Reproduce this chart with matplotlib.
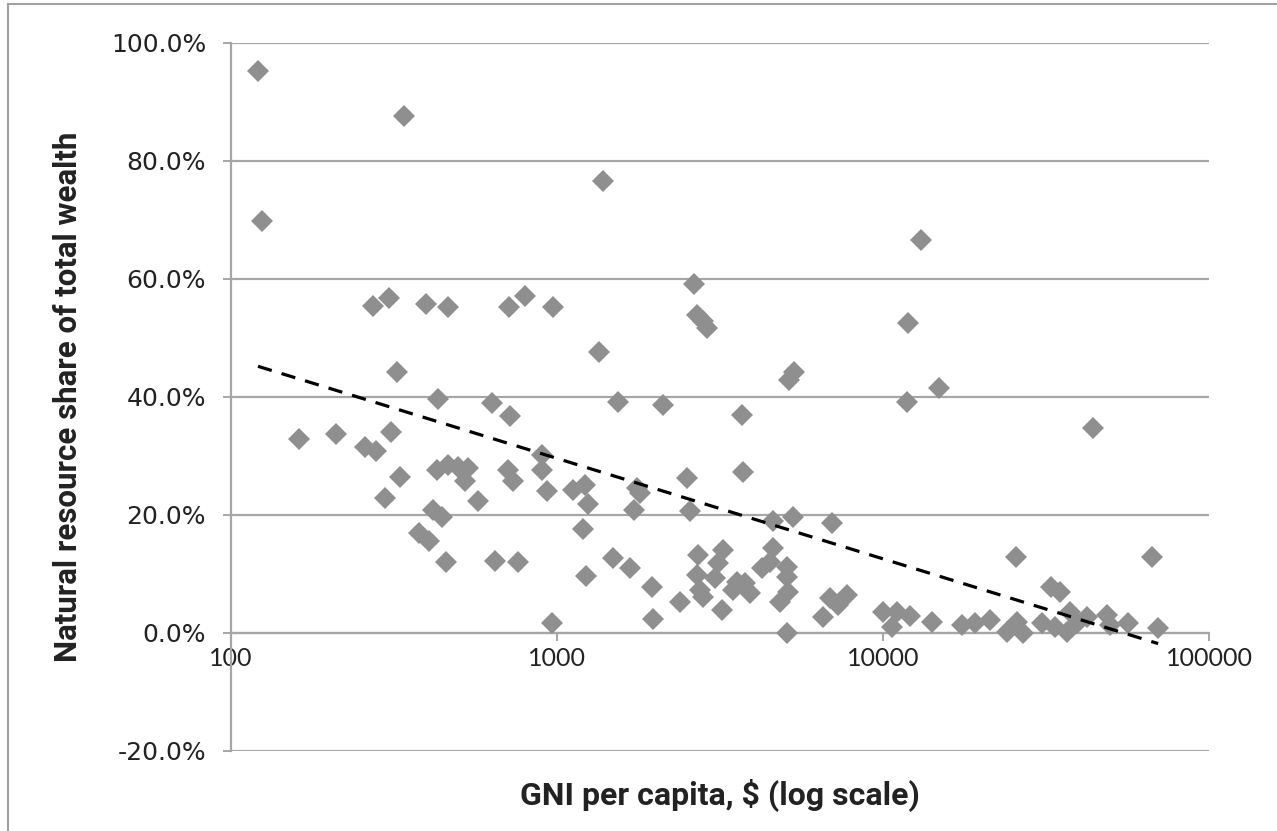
import numpy as np
import matplotlib
matplotlib.use('Agg')
import matplotlib.pyplot as plt
from matplotlib.ticker import FuncFormatter, FixedLocator, NullLocator
from matplotlib.lines import Line2D

# GNI per capita ($) and natural resource share of total wealth (%)
gni = [
    121, 124.5, 339.5, 161.7, 210, 257.6, 278.5, 309.6, 323, 272.7,
    305.3, 396.5, 463, 712, 797.5, 972, 431.5, 632, 717, 296.8,
    330, 428.5, 463, 497, 533, 522, 572, 707, 733, 899,
    899, 932, 416.6, 444, 377.3, 405, 456.5, 645.5, 759.5, 965.4,
    1384, 2631, 2688, 2805, 2885, 1345, 5333, 5148, 1539, 2114,
    3694, 3720, 2504, 1120, 1219, 1245, 1760, 1797, 1723, 2559,
    1202, 4598, 5296, 6977, 1485, 1675, 1227, 1956, 1970, 2707,
    3230, 3118, 2688, 3052, 2746, 2805, 2384, 3207, 3566, 3773,
    3467, 3908, 4598, 4501, 4254, 5076, 5076, 5112, 4831, 5076,
    6878, 7755, 7278, 6546, 10000, 13087, 11930, 11845, 14851, 44080,
    25590, 66880, 32750, 34910, 10656, 11040, 12100, 14135, 17470, 19150,
    21290, 24020, 25770, 26880, 30740, 33710, 37470, 36680, 39380, 42250,
    48660, 49700, 56430, 69770,
]
share = [
    95.3, 69.8, 87.7, 32.8, 33.8, 31.6, 30.9, 34.0, 44.2, 55.4,
    56.8, 55.7, 55.2, 55.2, 57.1, 55.2, 39.6, 38.9, 36.7, 22.9,
    26.5, 27.7, 28.5, 28.2, 28.0, 25.7, 22.3, 27.7, 25.7, 30.2,
    27.7, 24.0, 20.9, 19.7, 17.0, 15.6, 12.1, 12.2, 12.1, 1.7,
    76.6, 59.1, 53.9, 52.8, 51.7, 47.6, 44.2, 42.8, 39.1, 38.6,
    36.9, 27.2, 26.3, 24.3, 25.1, 21.9, 24.5, 23.8, 20.9, 20.7,
    17.7, 19.0, 19.7, 18.7, 12.7, 11.0, 9.7, 7.8, 2.4, 13.3,
    14.1, 11.9, 9.9, 9.3, 7.3, 6.1, 5.3, 3.9, 8.7, 8.5,
    7.3, 6.8, 14.4, 12.1, 11.0, 11.2, 9.5, 7.0, 5.3, 0.0,
    5.9, 6.5, 4.8, 2.7, 3.6, 66.6, 52.5, 39.1, 41.6, 34.7,
    12.9, 12.9, 7.8, 7.0, 1.0, 3.6, 2.8, 1.9, 1.4, 1.7,
    2.2, 0.2, 1.9, 0.0, 1.7, 1.0, 3.6, 0.2, 1.7, 2.7,
    3.1, 1.4, 1.7, 0.8,
]

# log trendline as shown in the chart: value at lowest and highest GNI
trend_share = [45.2, -1.8]

x_ticks = [100, 1000, 10000, 100000]
y_ticks = [-20, 0, 20, 40, 60, 80, 100]

grid_col = '#a6a6a6'
dot_col = '#8f8f8f'
narrow = ['Lato', 'DejaVu Sans']
title_font = ['Roboto', 'DejaVu Sans']

fig = plt.figure(figsize=(12.77, 8.31), dpi=100)
ax = fig.add_axes([0.1809, 0.0963, 0.7659, 0.8520])

gni = np.array(gni)
share = np.array(share)
ax.plot(gni, share, linestyle='none', marker='D', markersize=11,
        color=dot_col, markeredgewidth=0, zorder=3)

ax.plot([gni.min(), gni.max()], trend_share, color='black', lw=2.3,
        dashes=(4.5, 3.2), zorder=4)

ax.set_xscale('log')
ax.set_xlim(100, 100000)
ax.set_ylim(-20, 100)
ax.xaxis.set_major_locator(FixedLocator(x_ticks))
ax.xaxis.set_minor_locator(NullLocator())
ax.xaxis.set_major_formatter(FuncFormatter(lambda v, p: '%d' % v))
ax.yaxis.set_major_locator(FixedLocator(y_ticks))
ax.yaxis.set_major_formatter(FuncFormatter(lambda v, p: '%.1f%%' % v))

ax.grid(axis='y', color=grid_col, lw=1.6, zorder=0)
ax.set_axisbelow(True)
for s in ['top', 'right']:
    ax.spines[s].set_visible(False)
ax.spines['bottom'].set_position(('data', 0))
ax.spines['bottom'].set_color(grid_col)
ax.spines['bottom'].set_linewidth(1.6)
ax.spines['left'].set_color(grid_col)
ax.spines['left'].set_linewidth(1.6)

ax.tick_params(axis='y', direction='out', length=6, width=1.4, color=grid_col,
               labelsize=18, pad=12, labelcolor='#222222')
ax.tick_params(axis='x', direction='out', length=6, width=1.4, color=grid_col,
               labelsize=18, pad=4, labelcolor='#222222')
for lab in ax.get_xticklabels():
    lab.set_family(narrow)
for lab in ax.get_yticklabels():
    lab.set_family('DejaVu Sans')

fig.text(0.5634, 0.043, 'GNI per capita, $ (log scale)', ha='center', va='center',
         fontsize=23, fontweight='bold', family=title_font, color='#222222')
fig.text(0.053, 0.522, 'Natural resource share of total wealth', ha='center', va='center',
         rotation=90, fontsize=22.5, fontweight='bold', family=title_font, color='#222222')

# chart frame (only left and top edges show in the picture)
fig.add_artist(Line2D([0.0065, 0.0065], [0.0, 0.995], transform=fig.transFigure,
                      color='#a0a0a0', lw=1.5))
fig.add_artist(Line2D([0.0065, 1.0], [0.995, 0.995], transform=fig.transFigure,
                      color='#a0a0a0', lw=1.5))

fig.savefig('out.png', dpi=100)
